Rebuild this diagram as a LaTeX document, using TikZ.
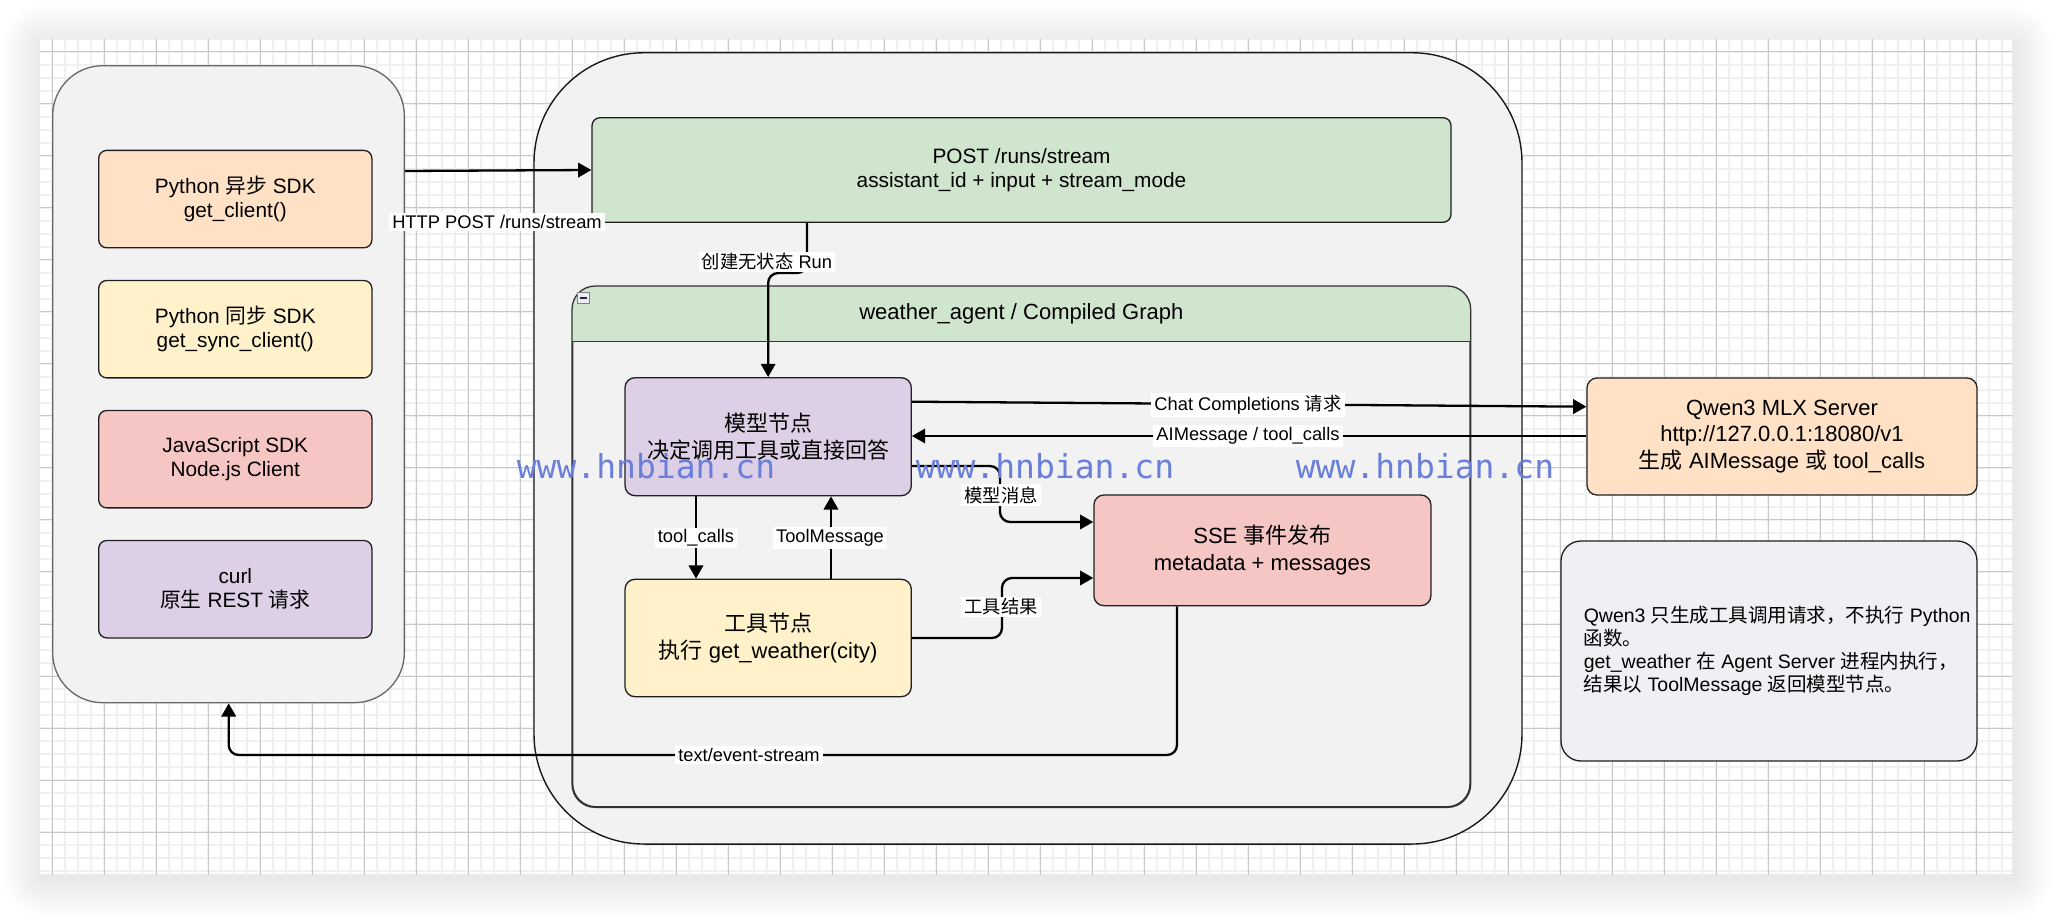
\documentclass[tikz,border=0pt]{standalone}
\usepackage{fontspec}
\setmainfont{Liberation Sans}
\newfontfamily\cjkfont{Noto Sans CJK SC}
\newfontfamily\wmfont{DejaVu Sans Mono}
\newcommand\zh[1]{{\cjkfont #1}}
\usetikzlibrary{arrows.meta,calc}
\definecolor{peach}{HTML}{FFE2C6}
\definecolor{lyellow}{HTML}{FFF2CA}
\definecolor{lpink}{HTML}{F6C6C5}
\definecolor{lpurple}{HTML}{DDD0E6}
\definecolor{lgreen}{HTML}{D0E5CD}
\definecolor{panel}{HTML}{F2F2F2}
\definecolor{notefill}{HTML}{EFF0F4}
\definecolor{wmblue}{HTML}{6A7FDB}
\definecolor{minorgrid}{HTML}{F0F0F0}
\definecolor{majorgrid}{HTML}{C8C8C8}
\tikzset{
  bx/.style={draw=black!88, line width=0.65pt, rounded corners=4pt, align=center, inner sep=0pt},
  cbox/.style={bx, font=\fontsize{10.4}{12}\selectfont, minimum width=136.6pt, minimum height=48.7pt},
  gnode/.style={bx, rounded corners=5pt, font=\fontsize{11}{13.5}\selectfont},
  conn/.style={line width=1.15pt, -{Triangle[width=7.2pt,length=6.6pt]}, rounded corners=5pt},
  lbl/.style={fill=white, inner xsep=1.5pt, inner ysep=1pt, font=\fontsize{9.15}{11}\selectfont},
  wmark/.style={text=wmblue, inner sep=0pt, font=\wmfont\fontsize{16.5}{18}\selectfont},
}
\begin{document}
\begin{tikzpicture}[x=0.5pt,y=-0.5pt]
\useasboundingbox (0,0) rectangle (2052,914);
\fill[white] (0,0) rectangle (2052,914);
% shadow
\foreach \i in {1,...,22}{
  \fill[black, opacity=0.0042, rounded corners=\i pt] (40-1.8*\i+1, 40-1.8*\i+4) rectangle (2012+1.8*\i+1, 874+1.8*\i+4);
}
\fill[white] (40,40) rectangle (2012,874);
\begin{scope}
  \clip (40,40) rectangle (2012,874);
  \draw[minorgrid, line width=1pt, step=6.5pt] (30,30) grid (2020,880);
  \draw[majorgrid, line width=0.5pt, step=26pt] (30,30) grid (2020,880);
\end{scope}

% left container
\node[draw=black!60, line width=0.65pt, fill=panel, rounded corners=25pt, minimum width=175.85pt, minimum height=318.5pt] (lc) at (228.5,384.2) {};
\node[cbox, fill=peach] (pa) at (235.3,199.1) {Python \zh{异步} SDK\\get\_client()};
\node[cbox, fill=lyellow] (ps) at (235.3,329.2) {Python \zh{同步} SDK\\get\_sync\_client()};
\node[cbox, fill=lpink] (js) at (235.3,459.2) {JavaScript SDK\\Node.js Client};
\node[cbox, fill=lpurple] (cu) at (235.3,589.2) {curl\\\zh{原生} REST \zh{请求}};

% middle container
\node[draw=black!90, line width=0.7pt, fill=panel, rounded corners=55pt, minimum width=494pt, minimum height=395.65pt] (mc) at (1028,448.4) {};
\node[bx, fill=lgreen, font=\fontsize{10.4}{12}\selectfont, minimum width=429.5pt, minimum height=52.3pt] (po) at (1021.5,170) {POST /runs/stream\\assistant\_id + input + stream\_mode};

% weather agent container
\node[draw=black!80, line width=0.65pt, fill=panel, rounded corners=11.5pt, minimum width=448.65pt, minimum height=260pt] (wc) at (1021.35,546.7) {};
\begin{scope}
  \clip (wc.north west) rectangle (1470,341.7);
  \fill[lgreen, rounded corners=11.5pt] (wc.north west) rectangle (wc.south east);
\end{scope}
\draw[black!80, line width=0.65pt] (wc.west |- 0,341.7) -- (wc.east |- 0,341.7);
\draw[black!80, line width=0.65pt, rounded corners=11.5pt] (wc.north west) rectangle (wc.south east);
\node[font=\fontsize{11}{13.5}\selectfont] (wt) at (1021.35,314) {weather\_agent / Compiled Graph};
\draw[draw=black!50, fill=black!25!blue!8!white, line width=0.5pt] (577.7,292.7) rectangle (589.7,304);
\draw[black!85, line width=1pt] (580.3,298.4) -- (587.1,298.4);

% graph nodes
\node[gnode, fill=lpurple, minimum width=143.15pt, minimum height=59pt] (mo) at (768.15,436.7) {\zh{模型节点}\\\zh{决定调用工具或直接回答}};
\node[gnode, fill=lyellow, minimum width=143.15pt, minimum height=58.7pt] (to) at (768.15,638) {\zh{工具节点}\\\zh{执行} get\_weather(city)};
\node[gnode, fill=lpink, minimum width=168.5pt, minimum height=55.35pt] (ss) at (1262.4,550.35) {SSE \zh{事件发布}\\metadata + messages};

% right side
\node[gnode, fill=peach, font=\fontsize{11}{13.25}\selectfont, minimum width=195pt, minimum height=58.5pt] (qw) at (1782,436.5) {Qwen3 MLX Server\\http://127.0.0.1:18080/v1\\\zh{生成} AIMessage \zh{或} tool\_calls};
\node[bx, fill=notefill, rounded corners=10pt, minimum width=208pt, minimum height=110pt] (nt) at (1769,651) {};
\node[anchor=west, align=left, inner sep=0pt, font=\fontsize{9.75}{11.5}\selectfont] (ntt) at ([xshift=11.5pt]nt.west) {Qwen3 \zh{只生成工具调用请求，不执行} Python\\\zh{函数。}\\get\_weather \zh{在} Agent Server \zh{进程内执行，}\\\zh{结果以} ToolMessage \zh{返回模型节点。}};

% connectors
\draw[conn] (lc.east |- 0,171) -- (po.west |- 0,170);
\draw[conn] (po.south -| 807,0) -- (807,273) -- (768.15,273) -- (mo.north);
\draw[conn] (mo.east |- 0,401.7) -- (qw.west |- 0,406.7);
\draw[conn] (qw.west |- 0,436) -- (mo.east |- 0,436);
\draw[conn] (mo.east |- 0,466) -- (1000,466) -- (1000,522) -- (ss.west |- 0,522);
\draw[conn] (to.east |- 0,638) -- (1002,638) -- (1002,578) -- (ss.west |- 0,578);
\draw[conn] (mo.south -| 696,0) -- (to.north -| 696,0);
\draw[conn] (to.north -| 831,0) -- (mo.south -| 831,0);
\draw[conn] (ss.south -| 1177,0) -- (1177,755) -- (228.7,755) -- (lc.south -| 228.7,0);

% labels
\node[lbl] (l1) at (497,222) {HTTP POST /runs/stream};
\node[lbl] (l2) at (767,262) {\zh{创建无状态} Run};
\node[lbl] (l3) at (1248,405) {Chat Completions \zh{请求}};
\node[lbl] (l4) at (1248,436) {AIMessage / tool\_calls};
\node[lbl] (l5) at (1001,495) {\zh{模型消息}};
\node[lbl] (l6) at (1001,607) {\zh{工具结果}};
\node[lbl] (l7) at (696,538) {tool\_calls};
\node[lbl] (l8) at (830,538) {ToolMessage};
\node[lbl] (l9) at (749,755) {text/event-stream};

% watermark
\node[wmark, anchor=base] (w1) at (646,479) {www.hnbian.cn};
\node[wmark, anchor=base] (w2) at (1045,479) {www.hnbian.cn};
\node[wmark, anchor=base] (w3) at (1425,479) {www.hnbian.cn};
\end{tikzpicture}
\end{document}
